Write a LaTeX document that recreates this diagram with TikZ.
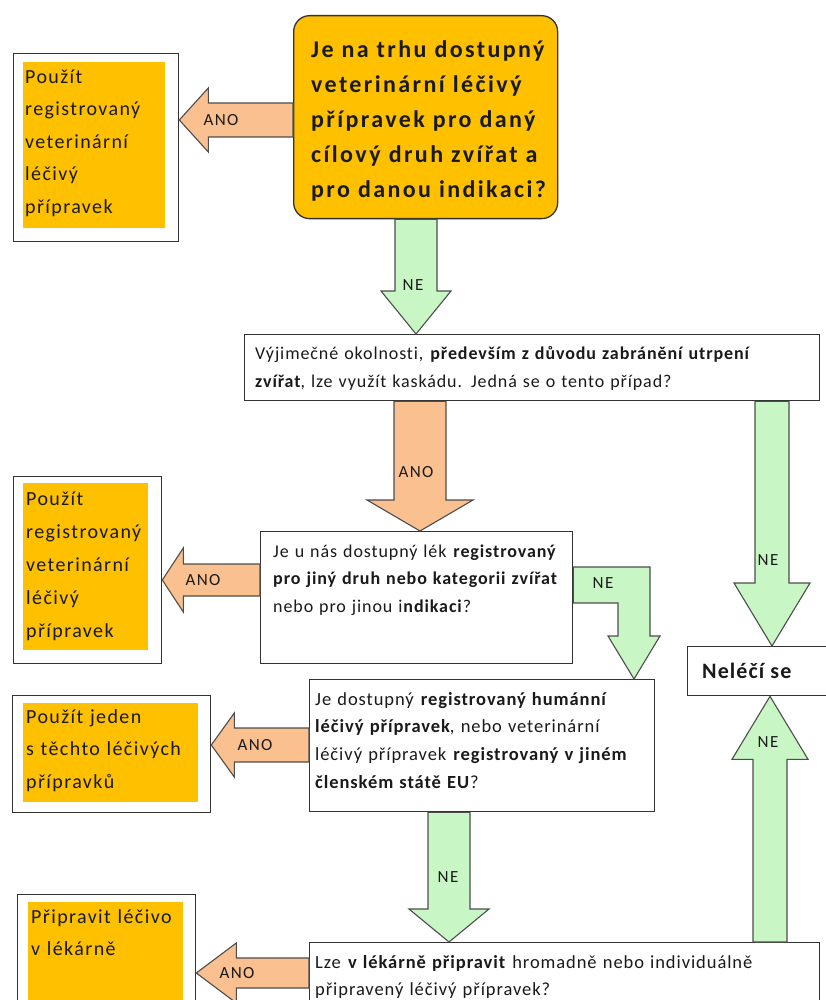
\documentclass[tikz,border=0pt]{standalone}
\usepackage{fontspec}
\setmainfont{Carlito}
\newfontfamily\cfTop[LetterSpace=10,Ligatures=NoCommon]{Carlito}
\newfontfamily\cfBody[LetterSpace=5,Ligatures=NoCommon]{Carlito}
\newfontfamily\cfSide[LetterSpace=7,Ligatures=NoCommon]{Carlito}
\newfontfamily\cfLbl[LetterSpace=8,Ligatures=NoCommon]{Carlito}
\usetikzlibrary{calc}
\definecolor{goldc}{HTML}{FFC000}
\definecolor{peachc}{HTML}{FAC08F}
\definecolor{greenc}{HTML}{C8F7C5}
\definecolor{bordc}{HTML}{333333}
\definecolor{arrc}{HTML}{4D4D4D}
\definecolor{txtc}{HTML}{1A1A1A}
\tikzset{
  box/.style={rectangle, draw=bordc, line width=1.3pt, fill=white, inner sep=0pt, anchor=north west},
  goldfill/.style={rectangle, fill=goldc, draw=none, inner sep=0pt, anchor=north west},
  txt/.style={anchor=north west, inner sep=0pt, align=left, text width=560pt, text=txtc},
  ano/.style={fill=peachc, draw=arrc, line width=1.1pt, line join=miter},
  ne/.style={fill=greenc, draw=arrc, line width=1.1pt, line join=miter},
  lbl/.style={font=\cfLbl\fontsize{17}{19}\selectfont, inner sep=0pt, text=txtc}
}
\newcommand\fTop{\cfTop\bfseries\fontsize{24}{35}\selectfont}
\newcommand\fSide[1]{\cfSide\fontsize{20}{#1}\selectfont}
\newcommand\fBody[2]{\cfBody\fontsize{#1}{#2}\selectfont}
% vertical block arrow pointing down: style, x, from, to, body half, head half, head length
\newcommand{\blkdown}[7]{\path[#1] let \p1=(#2,0 |- #3), \p2=(#2,0 |- #4) in
  (\x1-#5,\y1) -- (\x1-#5,\y2+#7) -- (\x1-#6,\y2+#7) -- (\x1,\y2) -- (\x1+#6,\y2+#7) -- (\x1+#5,\y2+#7) -- (\x1+#5,\y1) -- cycle;}
% vertical block arrow pointing up
\newcommand{\blkup}[7]{\path[#1] let \p1=(#2,0 |- #3), \p2=(#2,0 |- #4) in
  (\x1-#5,\y1) -- (\x1-#5,\y2-#7) -- (\x1-#6,\y2-#7) -- (\x1,\y2) -- (\x1+#6,\y2-#7) -- (\x1+#5,\y2-#7) -- (\x1+#5,\y1) -- cycle;}
% horizontal block arrow pointing left: style, y, from, to, body half, head half, head length
\newcommand{\blkleft}[7]{\path[#1] let \p1=(#3 |- 0,#2), \p2=(#4 |- 0,#2) in
  (\x1,\y1-#5) -- (\x2+#7,\y1-#5) -- (\x2+#7,\y1-#6) -- (\x2,\y1) -- (\x2+#7,\y1+#6) -- (\x2+#7,\y1+#5) -- (\x1,\y1+#5) -- cycle;}
\begin{document}
\begin{tikzpicture}[x=1pt,y=-1pt]
\useasboundingbox (0,0) rectangle (825,1000);
\fill[white] (0,0) rectangle (825,1000);

% ---- boxes ----
\node[box, fill=goldc, rounded corners=16pt, minimum width=264pt, minimum height=203pt] (q1) at (293,15) {};
\node[box, minimum width=575pt, minimum height=66pt] (q2) at (244,334) {};
\node[box, minimum width=312pt, minimum height=132pt] (q3) at (260,531) {};
\node[box, minimum width=345pt, minimum height=132pt] (q4) at (309,679) {};
\node[box, minimum width=510pt, minimum height=90pt] (q5) at (309,942) {};
\node[box, minimum width=160pt, minimum height=49pt] (nl) at (687,646) {};

\node[box, minimum width=165pt, minimum height=188pt] (r1) at (13,53) {};
\node[goldfill, minimum width=142pt, minimum height=166pt] (r1f) at (23,62) {};
\node[box, minimum width=148pt, minimum height=187pt] (r2) at (13,476) {};
\node[goldfill, minimum width=125pt, minimum height=167pt] (r2f) at (23,483) {};
\node[box, minimum width=198pt, minimum height=117pt] (r3) at (12,695) {};
\node[goldfill, minimum width=175pt, minimum height=99pt] (r3f) at (23,703) {};
\node[box, minimum width=178pt, minimum height=130pt] (r4) at (17,894) {};
\node[goldfill, minimum width=155pt, minimum height=120pt] (r4f) at (28,902) {};

% ---- texts ----
\node[txt, font=\fTop] (q1t) at (311,32.5) {\strut Je na trhu dostupný\\ veterinární léčivý\\ přípravek pro daný\\ cílový druh zvířat a\\ pro danou indikaci?};
\node[txt, font=\fBody{18}{28}] (q2t) at (255,339.4) {\strut Výjimečné okolnosti, \textbf{především z důvodu zabránění utrpení}\\ \textbf{zvířat}, lze využít kaskádu. Jedná se o tento případ?};
\node[txt, font=\fBody{18}{27.5}] (q3t) at (273,537.75) {\strut Je u nás dostupný lék \textbf{registrovaný}\\ \textbf{pro jiný druh nebo kategorii zvířat}\\ nebo pro jinou i\textbf{ndikaci}?};
\node[txt, font=\fBody{18.5}{27.7}] (q4t) at (315,685.6) {\strut Je dostupný \textbf{registrovaný humánní}\\ \textbf{léčivý přípravek}, nebo veterinární\\ léčivý přípravek \textbf{registrovaný v jiném}\\ \textbf{členském státě EU}?};
\node[txt, font=\fBody{18.5}{27}] (q5t) at (315,949.1) {\strut Lze \textbf{v lékárně připravit} hromadně nebo individuálně\\ připravený léčivý přípravek?};
\node[anchor=base west, inner sep=0pt, text=txtc, font=\cfBody\bfseries\fontsize{22}{26}\selectfont] (nlt) at (702,678) {Neléčí se};

\node[txt, font=\fSide{32.5}] (r1t) at (25,60.25) {\strut Použít\\ registrovaný\\ veterinární\\ léčivý\\ přípravek};
\node[txt, font=\fSide{33}] (r2t) at (26,481.9) {\strut Použít\\ registrovaný\\ veterinární\\ léčivý\\ přípravek};
\node[txt, font=\fSide{32.5}] (r3t) at (26,700.25) {\strut Použít jeden\\ s těchto léčivých\\ přípravků};
\node[txt, font=\fSide{32}] (r4t) at (31,900.6) {\strut Připravit léčivo\\ v lékárně};

% ---- block arrows ----
\blkleft{ano}{120}{q1.west}{r1.east}{17pt}{32pt}{29pt}
\blkleft{ano}{580}{q3.west}{r2.east}{16pt}{32pt}{21pt}
\blkleft{ano}{745}{q4.west}{r3.east}{17pt}{32pt}{23pt}
\blkleft{ano}{973}{q5.west}{r4.east}{15pt}{30pt}{40pt}
\blkdown{ne}{416}{q1.south}{q2.north}{21pt}{35pt}{43pt}
\blkdown{ano}{420}{q2.south}{q3.north}{26pt}{53pt}{31pt}
\blkdown{ne}{772}{q2.south}{nl.north}{17pt}{38pt}{63pt}
\blkdown{ne}{449}{q4.south}{q5.north}{21pt}{40pt}{33pt}
\blkup{ne}{770}{q5.north}{nl.south}{17pt}{38pt}{63pt}
% bent arrow from q3 to q4
\path[ne] let \p1=(q3.east |- 0,585), \p2=(634,0 |- q4.north) in
  (\x1,\y1+18pt) -- (\x2+16pt,\y1+18pt) -- (\x2+16pt,\y2+43pt) -- (\x2+26pt,\y2+43pt) -- (\x2,\y2)
  -- (\x2-26pt,\y2+43pt) -- (\x2-16pt,\y2+43pt) -- (\x2-16pt,\y1-18pt) -- (\x1,\y1-18pt) -- cycle;

% ---- labels ----
\node[lbl] (l1) at (221,120) {ANO};
\node[lbl] (l2) at (203,580) {ANO};
\node[lbl] (l3) at (255,745) {ANO};
\node[lbl] (l4) at (237,973) {ANO};
\node[lbl] (l5) at (416,472) {ANO};
\node[lbl] (l6) at (413,285) {NE};
\node[lbl] (l7) at (768,560) {NE};
\node[lbl] (l8) at (603,583) {NE};
\node[lbl] (l9) at (448,877) {NE};
\node[lbl] (l10) at (768,742) {NE};
\end{tikzpicture}
\end{document}
